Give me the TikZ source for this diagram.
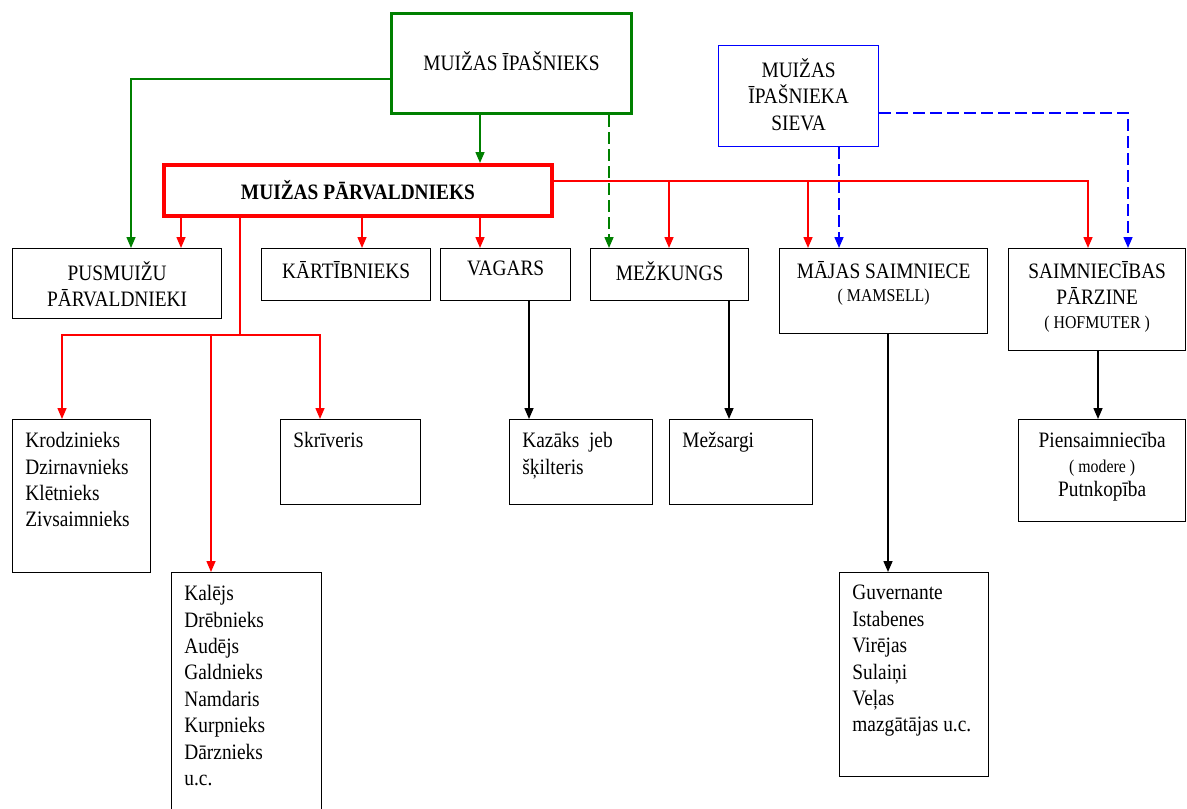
\documentclass[tikz,border=0pt]{standalone}
\usepackage{fontspec}
\setmainfont{Liberation Serif}[FakeStretch=0.88]
\usetikzlibrary{arrows.meta}

\definecolor{ownergreen}{RGB}{0,128,0}
\definecolor{mgrred}{RGB}{255,0,0}
\definecolor{wifeblue}{RGB}{0,0,255}

\tikzset{
    box/.style={draw, line width=0.65pt, inner sep=0pt, anchor=north west, align=center},
    toplbl/.style={anchor=north, inner sep=0pt, yshift=-6.5pt, align=center},
    leftlbl/.style={anchor=north west, inner sep=0pt, xshift=6.5pt, yshift=-6.5pt, align=left},
    toptext/.style={label={[toplbl]north:#1}},
    lefttext/.style={label={[leftlbl]north west:#1}},
    link/.style={line width=0.75pt, -{Triangle[length=5.5pt,width=4.5pt]}},
    dashlink/.style={link, dash pattern=on 6pt off 2.5pt},
}
\newcommand{\smalltxt}{\fontsize{9}{11}\selectfont}

\begin{document}
\begin{tikzpicture}[x=0.5pt, y=-0.5pt, font=\fontsize{11}{13.2}\selectfont]
    \useasboundingbox (0,0) rectangle (1187,808);

    % top of the estate
    \node[box, draw=ownergreen, line width=1.5pt, minimum width=120pt, minimum height=50pt, label={[toplbl, yshift=-13pt]north:MUIŽAS ĪPAŠNIEKS}] (owner) at (390,12) {};
    \node[box, draw=wifeblue, minimum width=80pt, minimum height=50.5pt, toptext={MUIŽAS\\ĪPAŠNIEKA\\SIEVA}] (wife) at (718,45) {};
    \node[box, draw=mgrred, line width=2pt, minimum width=194pt, minimum height=25.5pt, font=\fontsize{11}{13.2}\selectfont\bfseries] (manager) at (162,163) {MUIŽAS PĀRVALDNIEKS};

    % second row
    \node[box, minimum width=104.5pt, minimum height=35pt, toptext={PUSMUIŽU\\PĀRVALDNIEKI}] (pusm) at (12,248) {};
    \node[box, minimum width=84.5pt, minimum height=26pt, toptext=KĀRTĪBNIEKS] (kart) at (261,248) {};
    \node[box, minimum width=65pt, minimum height=26pt, toptext=VAGARS] (vag) at (440,248) {};
    \node[box, minimum width=79pt, minimum height=26pt, toptext=MEŽKUNGS] (mez) at (590,248) {};
    \node[box, minimum width=104pt, minimum height=42.5pt, toptext={MĀJAS SAIMNIECE\\[-1.5pt]{\smalltxt( MAMSELL)}}] (majas) at (779,248) {};
    \node[box, minimum width=88.5pt, minimum height=51pt, toptext={SAIMNIECĪBAS\\PĀRZINE\\[-1.5pt]{\smalltxt( HOFMUTER )}}] (saimn) at (1008,248) {};

    % third row
    \node[box, minimum width=69pt, minimum height=76.5pt, lefttext={Krodzinieks\\Dzirnavnieks\\Klētnieks\\Zivsaimnieks}] (krod) at (12,419) {};
    \node[box, minimum width=70pt, minimum height=42.5pt, lefttext=Skrīveris] (skriv) at (280,419) {};
    \node[box, minimum width=71.5pt, minimum height=42.5pt, lefttext={Kazāks\ \ jeb\\šķilteris}] (kaz) at (509,419) {};
    \node[box, minimum width=71.5pt, minimum height=42.5pt, lefttext=Mežsargi] (mezs) at (669,419) {};
    \node[box, minimum width=83.5pt, minimum height=51pt, toptext={Piensaimniecība\\[-1pt]{\smalltxt( modere )}\\[-1pt]Putnkopība}] (piens) at (1018,419) {};
    \node[box, minimum width=75pt, minimum height=119pt, lefttext={Kalējs\\Drēbnieks\\Audējs\\Galdnieks\\Namdaris\\Kurpnieks\\Dārznieks\\u.c.}] (kal) at (171,572) {};
    \node[box, minimum width=74.5pt, minimum height=102pt, lefttext={Guvernante\\Istabenes\\Virējas\\Sulaiņi\\Veļas\\mazgātājas u.c.}] (guv) at (839,572) {};

    % owner
    \draw[link, ownergreen] (owner.west |- 0,79) -| (pusm.north -| 131,0);
    \draw[link, ownergreen] (owner.south -| 480,0) -- (manager.north -| 480,0);
    \draw[dashlink, ownergreen] (owner.south -| 609,0) -- (mez.north -| 609,0);

    % wife
    \draw[dashlink, wifeblue] (wife.east |- 0,113) -| (saimn.north -| 1128,0);
    \draw[dashlink, wifeblue] (wife.south -| 839,0) -- (majas.north -| 839,0);

    % manager
    \draw[link, mgrred] (manager.east |- 0,181) -| (saimn.north -| 1088,0);
    \draw[link, mgrred] (808,181) -- (majas.north -| 808,0);
    \draw[link, mgrred] (669,181) -- (mez.north -| 669,0);
    \draw[link, mgrred] (manager.south -| 181,0) -- (pusm.north -| 181,0);
    \draw[link, mgrred] (manager.south -| 362,0) -- (kart.north -| 362,0);
    \draw[link, mgrred] (manager.south -| 480,0) -- (vag.north -| 480,0);
    \draw[link, mgrred] (manager.south -| 240,0) -- (240,335) -| (krod.north -| 62,0);
    \draw[link, mgrred] (211,335) -- (kal.north -| 211,0);
    \draw[link, mgrred] (240,335) -| (skriv.north -| 320,0);

    % lower level
    \draw[link] (vag.south -| 529,0) -- (kaz.north -| 529,0);
    \draw[link] (mez.south -| 729,0) -- (mezs.north -| 729,0);
    \draw[link] (majas.south -| 888,0) -- (guv.north -| 888,0);
    \draw[link] (saimn.south -| 1098,0) -- (piens.north -| 1098,0);
\end{tikzpicture}
\end{document}
